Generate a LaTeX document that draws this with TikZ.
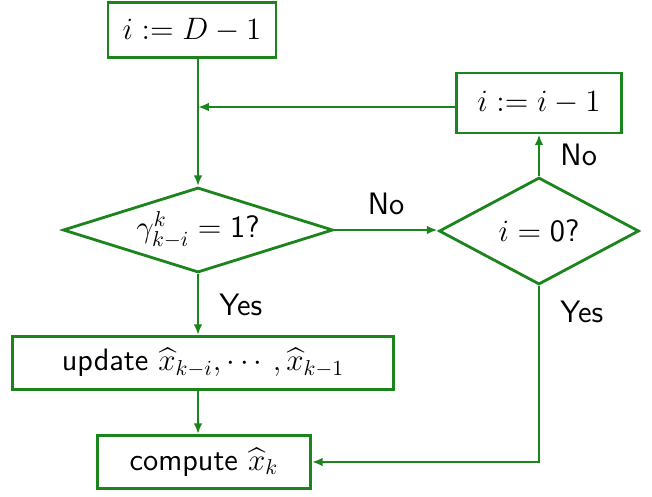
\documentclass[tikz,border=0pt]{standalone}
\usepackage{amsmath}
\usepackage{amssymb}
\usepackage{xcolor}
\usepackage{tikz}
\usetikzlibrary{arrows.meta, positioning, shapes.geometric}

\definecolor{flowgreen}{RGB}{28,132,28}
\newdimen\pxu
\pxu=0.4645pt

\begin{document}
\begin{tikzpicture}[
  x=\pxu, y=-\pxu,
  font=\Large\sffamily,
  box/.style={
    draw=flowgreen,
    line width=1.3pt,
    align=center,
    inner sep=0pt
  },
  decision/.style={
    diamond,
    draw=flowgreen,
    line width=1.3pt,
    align=center,
    inner sep=0pt
  },
  arrow/.style={
    draw=flowgreen,
    -{Latex[length=5pt,width=4pt]},
    line width=1.3pt
  }
]
\useasboundingbox (0,0) rectangle (652,496);

% Start box
\node[box, minimum width=168*\pxu, minimum height=55*\pxu] (start) at (192,30)
{$i := D-1$};

% Decrement box
\node[box, minimum width=165*\pxu, minimum height=60*\pxu] (dec) at (539,103)
{$i := i-1$};

% Two tests
\node[decision, aspect=3.2, minimum width=270*\pxu, minimum height=85*\pxu] (test) at (198,230)
{$\gamma^k_{k-i} = \mathsf{1}$?};

\node[decision, aspect=1.9, minimum width=200*\pxu, minimum height=107*\pxu] (zero) at (539,231)
{$i = \mathsf{0}$?};

% Update and compute boxes
\node[box, minimum width=381*\pxu, minimum height=53*\pxu] (update) at (203,363)
{update $\widehat{x}_{k-i},\cdots,\widehat{x}_{k-1}$};

\node[box, minimum width=213*\pxu, minimum height=53*\pxu] (compute) at (204,462)
{compute $\widehat{x}_k$};

% Loop joins the main line here
\coordinate (merge) at (198,107);

% Connectors
\draw[arrow] (start.south -| test.north) -- (test.north);
\draw[arrow] (dec.west |- merge) -- (merge);
\draw[arrow] (test.east) -- node[above=3pt] {No} (test.east -| zero.west);
\draw[arrow] (zero.north) -- node[right=6pt] {No} (dec.south);
\draw[arrow] (test.south) -- node[right=6pt] {Yes} (test.south |- update.north);
\draw[arrow] (test.south |- update.south) -- (test.south |- compute.north);
\draw[arrow] (zero.south) |- node[pos=0.075, right=6pt] {Yes} (compute.east);

\end{tikzpicture}
\end{document}
